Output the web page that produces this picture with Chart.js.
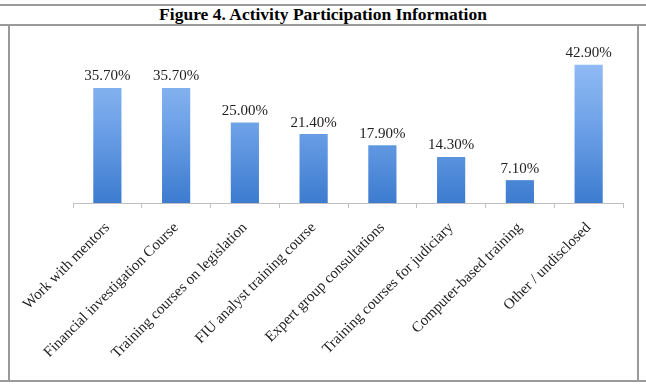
<!DOCTYPE html>
<html>
<head>
<meta charset="utf-8">
<script src="https://cdn.jsdelivr.net/npm/chart.js@4.4.1/dist/chart.umd.min.js"></script>
<style>
  html, body { margin: 0; padding: 0; background: #fff; }
  #wrap { position: relative; width: 646px; height: 386px; overflow: hidden; }
  .hline { position: absolute; left: 0; width: 646px; height: 2px; background: #9a9a9a; }
  .vline { position: absolute; width: 2px; background: #9a9a9a; }
  #title { position: absolute; left: 0; width: 646px; text-align: center; top: 4px;
           font-family: "Liberation Serif", "Times New Roman", serif;
           font-weight: bold; font-size: 17.5px; color: #000; white-space: nowrap; }
  #c { position: absolute; left: 0; top: 0; }
</style>
</head>
<body>
<div id="wrap">
  <div class="hline" style="top:4px"></div>
  <div class="hline" style="top:24px"></div>
  <div class="vline" style="left:8px; top:24px; height:357px"></div>
  <div class="vline" style="left:637px; top:24px; height:357px"></div>
  <div class="hline" style="top:380px"></div>
  <div id="title">Figure 4. Activity Participation Information</div>
  <canvas id="c" width="646" height="386"></canvas>
</div>
<script>
const categories = [
  "Work with mentors",
  "Financial investigation Course",
  "Training courses on legislation",
  "FIU analyst training course",
  "Expert group consultations",
  "Training courses for judiciary",
  "Computer-based training",
  "Other / undisclosed"
];
const participation = [35.7, 35.7, 25.0, 21.4, 17.9, 14.3, 7.1, 42.9];
const valueLabels = ["35.70%", "35.70%", "25.00%", "21.40%", "17.90%", "14.30%", "7.10%", "42.90%"];

function barGradient(ctx) {
  const area = ctx.chart.chartArea;
  if (!area) return '#5b93de';
  const el = ctx.element;
  const c = ctx.chart.ctx;
  const base = area.bottom;
  const topY = (el && el.y !== undefined) ? el.y : area.top;
  const g = c.createLinearGradient(0, topY, 0, base);
  g.addColorStop(0, '#9cc3f8');
  g.addColorStop(0.5, '#6fa3e8');
  g.addColorStop(1, '#3d7bcf');
  return g;
}

const valueLabelPlugin = {
  id: 'valueLabels',
  afterDatasetsDraw(chart) {
    const c = chart.ctx;
    const meta = chart.getDatasetMeta(0);
    c.save();
    c.font = '15px "Liberation Serif", serif';
    c.fillStyle = '#222';
    c.textAlign = 'center';
    c.textBaseline = 'bottom';
    meta.data.forEach((bar, i) => {
      c.fillText(valueLabels[i], bar.x, bar.y - 4);
    });
    c.restore();
  }
};

new Chart(document.getElementById('c'), {
  type: 'bar',
  data: {
    labels: categories,
    datasets: [{
      data: participation,
      backgroundColor: barGradient,
      borderWidth: 0,
      categoryPercentage: 1,
      barPercentage: 0.41
    }]
  },
  options: {
    responsive: false,
    animation: false,
    layout: { padding: { left: 73, right: 23, top: 42, bottom: 0 } },
    plugins: { legend: { display: false }, tooltip: { enabled: false } },
    scales: {
      y: { display: false, min: 0, max: 50 },
      x: {
        offset: true,
        grid: { offset: true, drawOnChartArea: false, drawTicks: true, tickLength: 5, color: '#bfbfbf' },
        border: { display: true, color: '#bfbfbf' },
        ticks: {
          minRotation: 45, maxRotation: 45, padding: 11,
          color: '#222',
          font: { family: '"Liberation Serif", serif', size: 15 }
        },
        afterFit(scale) { scale.height = 183; }
      }
    }
  },
  plugins: [valueLabelPlugin]
});
</script>
</body>
</html>
